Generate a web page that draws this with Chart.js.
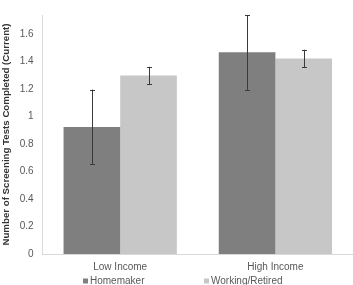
<!DOCTYPE html>
<html>
<head>
<meta charset="utf-8">
<script src="https://cdn.jsdelivr.net/npm/chart.js@4"></script>
<style>
  html, body { margin: 0; padding: 0; background: #fff; }
  #wrap { width: 353px; height: 285px; }
</style>
</head>
<body>
<div id="wrap"><canvas id="grafico"></canvas></div>
<script>
const categorias = ['Low Income', 'High Income']
const series = ['Homemaker', 'Working/Retired']
const homemaker = [0.925, 1.468]
const working = [1.30, 1.423]
const erroHomemaker = [0.272, 0.272]
const erroWorking = [0.063, 0.064]
const yTicks = [0, 0.2, 0.4, 0.6, 0.8, 1, 1.2, 1.4, 1.6]
const cores = ['#7f7f7f', '#c7c7c7']

const erros = [erroHomemaker, erroWorking]
const fonte = '"Liberation Sans", Arial, sans-serif'

// barras de erro desenhadas a partir da escala y
const errorBars = {
    id: 'errorBars',
    afterDatasetsDraw(chart) {
        const ctx = chart.ctx
        const y = chart.scales.y
        ctx.save()
        ctx.strokeStyle = '#3a3a3a'
        ctx.lineWidth = 1
        chart.data.datasets.forEach((ds, d) => {
            const meta = chart.getDatasetMeta(d)
            meta.data.forEach((bar, i) => {
                const v = ds.data[i]
                const e = erros[d][i]
                const x = Math.round(bar.x) + 0.5
                const yTop = y.getPixelForValue(v + e)
                const yBot = y.getPixelForValue(v - e)
                ctx.beginPath()
                ctx.moveTo(x, yTop)
                ctx.lineTo(x, yBot)
                ctx.moveTo(x - 2.5, Math.round(yTop) + 0.5)
                ctx.lineTo(x + 2.5, Math.round(yTop) + 0.5)
                ctx.moveTo(x - 2.5, Math.round(yBot) + 0.5)
                ctx.lineTo(x + 2.5, Math.round(yBot) + 0.5)
                ctx.stroke()
            })
        })
        ctx.restore()
    }
}

// legenda no estilo do Excel
const legendaExcel = {
    id: 'legendaExcel',
    afterDraw(chart) {
        const ctx = chart.ctx
        const posicoes = [83, 204]
        const yLeg = 281
        ctx.save()
        ctx.font = '10px ' + fonte
        ctx.textBaseline = 'middle'
        ctx.textAlign = 'left'
        series.forEach((nome, i) => {
            ctx.fillStyle = cores[i]
            ctx.fillRect(posicoes[i], yLeg - 2.5, 5, 5)
            ctx.fillStyle = '#595959'
            ctx.fillText(nome, posicoes[i] + 7, yLeg)
        })
        ctx.restore()
    }
}

new Chart(document.getElementById('grafico'), {
    type: 'bar',
    data: {
        labels: categorias,
        datasets: [
            { label: series[0], data: homemaker, backgroundColor: cores[0] },
            { label: series[1], data: working, backgroundColor: cores[1] }
        ]
    },
    options: {
        responsive: true,
        maintainAspectRatio: false,
        animation: false,
        layout: { padding: { top: 7, right: 0, bottom: 5, left: 1 } },
        datasets: { bar: { categoryPercentage: 0.73, barPercentage: 1 } },
        scales: {
            x: {
                grid: { display: false, drawTicks: false },
                border: { color: '#d9d9d9' },
                ticks: {
                    color: '#595959',
                    padding: 7,
                    font: { family: fonte, size: 10 }
                }
            },
            y: {
                min: 0,
                max: 1.74,
                grid: { display: false, drawTicks: false },
                border: { color: '#d9d9d9' },
                afterBuildTicks: axis => { axis.ticks = yTicks.map(v => ({ value: v })) },
                ticks: {
                    color: '#595959',
                    padding: 9,
                    callback: v => String(v),
                    font: { family: fonte, size: 10 }
                },
                title: {
                    display: true,
                    text: 'Number of Screening Tests Completed (Current)',
                    color: '#333333',
                    padding: { top: 0, bottom: 0 },
                    font: { family: fonte, size: 9.7, weight: 'bold', lineHeight: 1 }
                }
            }
        },
        plugins: {
            legend: { display: false },
            tooltip: { enabled: false }
        }
    },
    plugins: [errorBars, legendaExcel]
})
</script>
</body>
</html>
